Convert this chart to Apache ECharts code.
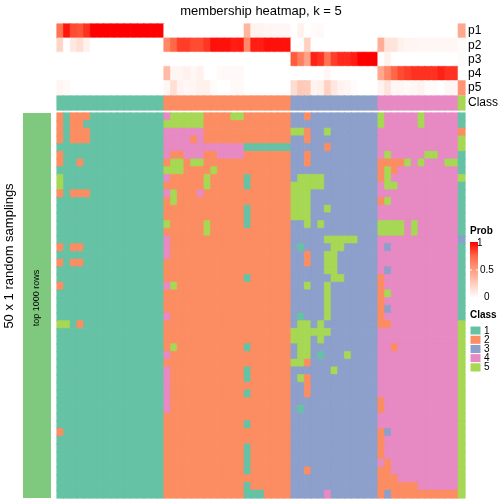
<!DOCTYPE html>
<html><head><meta charset="utf-8">
<script src="https://cdn.jsdelivr.net/npm/echarts@6/dist/echarts.min.js"></script>
<style>html,body{margin:0;padding:0;background:#fff}#c{width:504px;height:504px}</style>
</head><body><div id="c"></div>
<script>
// ---------- data ----------
const classColors = ['#66C2A5', '#FC8D62', '#8DA0CB', '#E78AC3', '#A6D854'];
const classLabels = ['1', '2', '3', '4', '5'];
const probRows = ['p1', 'p2', 'p3', 'p4', 'p5'];
const probTicks = ['1', '0.5', '0'];
const probStops = ['#FFFFFF', '#FFCFBF', '#FF9E81', '#FF6846', '#FF0000'];

// consensus class of each column (61 columns)
const colClass = [
  1,1,1,1,1,1,1,1,1,1,1,1,1,1,1,1,
  2,2,2,2,2,2,2,2,2,2,2,2,2,2,2,2,2,2,2,
  3,3,3,3,3,3,3,3,3,3,3,3,3,
  4,4,4,4,4,4,4,4,4,4,4,4,
  5
];
const p1 = [0.70,0.95,0.82,0.80,0.88,1,1,1,1,1,1,1,1,1,1,1,
  0,0,0,0,0,0,0,0,0,0,0,0,0.38,0.06,0.06,0.04,0.04,0.04,0.04,
  0,0.07,0,0.02,0.03,0,0,0,0,0,0,0,0,
  0,0,0,0,0,0,0,0,0,0,0,0,
  0.45];
const p2 = [0.22,0,0.12,0.17,0.07,0,0,0,0,0,0,0,0,0,0,0,
  0.60,0.75,0.85,0.85,0.82,0.82,0.87,0.96,0.96,0.96,0.93,0.94,0.60,0.93,0.93,0.96,0.96,0.96,0.96,
  0,0,0.25,0,0,0,0,0,0,0,0,0,0,
  0.42,0.14,0.14,0.07,0.05,0.05,0.04,0.04,0.04,0.04,0.04,0.04,
  0.02];
const p3 = [0,0,0,0,0,0,0,0,0,0,0,0,0,0,0,0,
  0,0,0,0,0,0,0,0,0,0,0,0,0,0,0,0,0,0,0,
  0.78,0.65,0.48,0.92,0.88,0.70,0.85,0.90,0.90,0.93,1,1,1,
  0,0.07,0,0,0,0,0,0,0,0,0,0,
  0.02];
const p4 = [0,0,0,0,0,0,0,0,0,0,0,0,0,0,0,0,
  0.35,0.05,0.05,0.07,0.04,0.07,0,0,0.03,0.03,0.03,0.03,0,0,0,0,0,0,0,
  0,0,0,0,0,0.04,0,0,0,0,0,0,0,
  0.45,0.60,0.75,0.82,0.85,0.88,0.88,0.88,0.88,0.92,0.88,0.88,
  0];
const p5 = [0.05,0.03,0,0,0,0,0,0,0,0,0,0,0,0,0,0,
  0.04,0.17,0.06,0.04,0.05,0.07,0.07,0.02,0,0,0.03,0.03,0,0,0,0,0,0,0,
  0.18,0.28,0.27,0.06,0.08,0.24,0.13,0.06,0.05,0.02,0,0,0,
  0.06,0.14,0.04,0.04,0.03,0.04,0.06,0.02,0.02,0,0.04,0.04,
  0.55];

// 50 random samplings (rows) x 61 columns, class per cell (groups: 16|19|13|12|1)
const samplings = [
  '2122211111111111 4555552222552222222 3323333333333 544444544444 1',
  '2122111111111111 5555552222222222222 3333333333333 544444544444 1',
  '2122211111111111 4444442222222222222 5523353333333 444444444444 2',
  '2122211111111111 4444242222222222222 3323333333333 444444444444 5',
  '1111111111111111 4444444444441111111 3333323333333 444444444444 5',
  '2111111111111111 4224442244442222222 3323333333333 454444455444 1',
  '2112111111111111 2552552222222222222 3323333333333 222254544455 1',
  '1111111111111111 5552222522222222222 3333333333333 252444444444 1',
  '5111111111111111 4222225222221222222 3555533333333 254444444444 5',
  '5111111111111111 2222225222221222222 5555533333333 455444444444 1',
  '2122211111111111 4522242222222222222 5553333333333 444444444444 1',
  '1111111111111111 2522222222222222222 5553333333333 254444444444 1',
  '1111111111111111 2222222222221222222 5553353333333 444444444444 1',
  '1111111111111111 2222222222221222222 5553333333333 444444444444 1',
  '1111111111111111 5222225222221222222 3353533333333 555545444444 1',
  '1111111111111111 2222225222222222222 3333333333333 555545444444 1',
  '1111111111111111 4222222222222222222 3333355555333 444444444444 3',
  '2122111111111111 4222222222222222222 3133335533333 434444444444 1',
  '1111111111111111 4222222222222222222 3323355333333 444444444444 1',
  '2122111111111111 2222222222222222222 3323355333333 444444444444 1',
  '1111111111111111 2222222222222222222 3333355333333 434444444444 1',
  '1111111111111111 2222222222221222222 3333335533333 244444444444 1',
  '2111111111111111 4522222222222222222 3353353333333 244444444444 1',
  '1111111111111111 2222222222222222222 3333353333333 254444444444 1',
  '1111111111111111 2222222222222222222 3333353333333 244444444444 1',
  '1111111111111111 2222222222222222222 3333353333333 234444444444 1',
  '1111111111111111 4222222222222222222 3133353333333 244444444444 1',
  '5512111111111111 2222222222222222222 3553533333333 224444444444 5',
  '1111111111111111 2222222222222222222 5555553333333 444444444444 5',
  '1111111111111111 2222222222222222222 5553533333333 444444444444 5',
  '1111111111111111 2522222222221222222 3553333333333 442444444444 5',
  '1111111111111111 4222222222222222222 3553133353333 444444444444 5',
  '1111111111111111 2222222222222222222 5523333333333 444444444444 5',
  '1111111111111111 4222222222221222222 3333335333333 444444444444 5',
  '1111111111111111 4222222222221222222 3523333333333 444444444444 5',
  '1111111111111111 4222222222222222222 3323333333333 444444444444 5',
  '1111111111111111 4222222222221222222 3323333333333 444444444444 5',
  '1111111111111111 4222222222222222222 3333333333333 244444444444 5',
  '1111111111111111 4222222222222222222 3133333333333 244444444444 5',
  '1111111111111111 2222222222222222222 3333333333333 444444444444 5',
  '1111111111111111 2222222222221222222 3333333333333 444444444444 5',
  '2111111111111111 2222222222222222222 3333333333333 234444444444 5',
  '1111111111111111 2222222222222222222 3333333333333 244444444444 5',
  '1111111111111111 2222222222221222222 3333333333333 244444444444 5',
  '1111111111111111 2222222222221222222 3333333333333 244444444444 5',
  '1111111111111111 2222222222221222222 3333333333333 424444444444 5',
  '1111111111111111 2222222222221222222 3323333333333 224444444444 5',
  '1111111111111111 2222222222222222222 3333333333333 222444444444 5',
  '1111111111111111 2222222222221222222 3333333333333 222222444444 5',
  '1111111111111111 2222222222221112222 3333343333333 232222222222 5'
];

// ---------- build ----------
const FONT = '"Liberation Sans", Arial, sans-serif';
const colCats = colClass.map((_, i) => String(i));
const rowCats = samplings.map((_, i) => String(i));
const probs = [p1, p2, p3, p4, p5];

function cell(c, r, v, col) {
  return {value: [c, r, v], itemStyle: {color: col, borderColor: col, borderWidth: 0.6}};
}
const probData = [];
probs.forEach((arr, r) => arr.forEach((v, c) => probData.push(cell(c, r, v, echarts.color.lerp(v, probStops)))));
const classData = colClass.map((v, c) => cell(c, 0, v, classColors[v - 1]));
const mainData = [];
samplings.forEach((s, r) => {
  const t = s.replace(/ /g, '');
  for (let c = 0; c < t.length; c++) mainData.push(cell(c, r, +t[c], classColors[+t[c] - 1]));
});

const L = 57, W = 408;
const grids = [
  {left: L, top: 24, width: W, height: 71},
  {left: L, top: 96, width: W, height: 14},
  {left: L, top: 113, width: W, height: 385}
];
function xAx(i) {
  return {type: 'category', gridIndex: i, data: colCats, show: false};
}
function yAx(i, data, showLab) {
  return {
    type: 'category', gridIndex: i, data: data, inverse: true, position: 'right',
    axisLine: {show: false}, axisTick: {show: false}, splitLine: {show: false},
    axisLabel: {show: showLab, interval: 0, fontSize: 12, color: '#000', margin: 3, fontFamily: FONT}
  };
}

const legendEls = [];
// Prob legend
legendEls.push({type: 'text', left: 470, top: 226,
  style: {text: 'Prob', font: 'bold 10px ' + FONT, fill: '#000'}});
legendEls.push({type: 'rect', shape: {x: 470, y: 242, width: 8, height: 56},
  style: {fill: new echarts.graphic.LinearGradient(0, 0, 0, 1,
    probStops.slice().reverse().map((c, i) => ({offset: i / 4, color: c})))}});
const tickY = [243, 270, 297];
const tickX = [477, 480, 484];
probTicks.forEach((t, i) => {
  legendEls.push({type: 'text', x: tickX[i], y: tickY[i],
    style: {text: t, font: '10px ' + FONT, fill: '#000', textVerticalAlign: 'middle'}});
});
legendEls.push({type: 'line', shape: {x1: 470, y1: 270, x2: 472, y2: 270}, style: {stroke: '#fff', lineWidth: 1}});
legendEls.push({type: 'line', shape: {x1: 476, y1: 270, x2: 478, y2: 270}, style: {stroke: '#fff', lineWidth: 1}});
// Class legend
legendEls.push({type: 'text', left: 470, top: 310,
  style: {text: 'Class', font: 'bold 10px ' + FONT, fill: '#000'}});
classLabels.forEach((lab, i) => {
  const y = 326 + i * 9.2;
  legendEls.push({type: 'rect', shape: {x: 470, y: y, width: 11, height: 9.2},
    style: {fill: classColors[i], stroke: '#fff', lineWidth: 1}});
  legendEls.push({type: 'text', x: 484, y: y + 4.8,
    style: {text: lab, font: '10px ' + FONT, fill: '#000', textVerticalAlign: 'middle'}});
});

const option = {
  animation: false,
  backgroundColor: '#fff',
  grid: grids,
  xAxis: [xAx(0), xAx(1), xAx(2)],
  yAxis: [yAx(0, probRows, true), yAx(1, ['Class'], true), yAx(2, rowCats, false)],
  series: [
    {type: 'heatmap', xAxisIndex: 0, yAxisIndex: 0, data: probData, progressive: 0},
    {type: 'heatmap', xAxisIndex: 1, yAxisIndex: 1, data: classData, progressive: 0},
    {type: 'heatmap', xAxisIndex: 2, yAxisIndex: 2, data: mainData, progressive: 0}
  ],
  graphic: [
    {type: 'text', x: 261, y: 11,
      style: {text: 'membership heatmap, k = 5', font: '13px ' + FONT, fill: '#000',
        textAlign: 'center', textVerticalAlign: 'middle'}},
    {type: 'rect', shape: {x: 23, y: 113, width: 28, height: 385}, style: {fill: '#7FC97F'}},
    {type: 'text', x: 9, y: 256, rotation: Math.PI / 2,
      style: {text: '50 x 1 random samplings', font: '13px ' + FONT, fill: '#000',
        textAlign: 'center', textVerticalAlign: 'middle'}},
    {type: 'text', x: 37, y: 298, rotation: Math.PI / 2,
      style: {text: 'top 1000 rows', font: '9px ' + FONT, fill: '#000',
        textAlign: 'center', textVerticalAlign: 'middle'}}
  ].concat(legendEls)
};
const chart = echarts.init(document.getElementById('c'));
chart.setOption(option);
</script>
</body></html>
